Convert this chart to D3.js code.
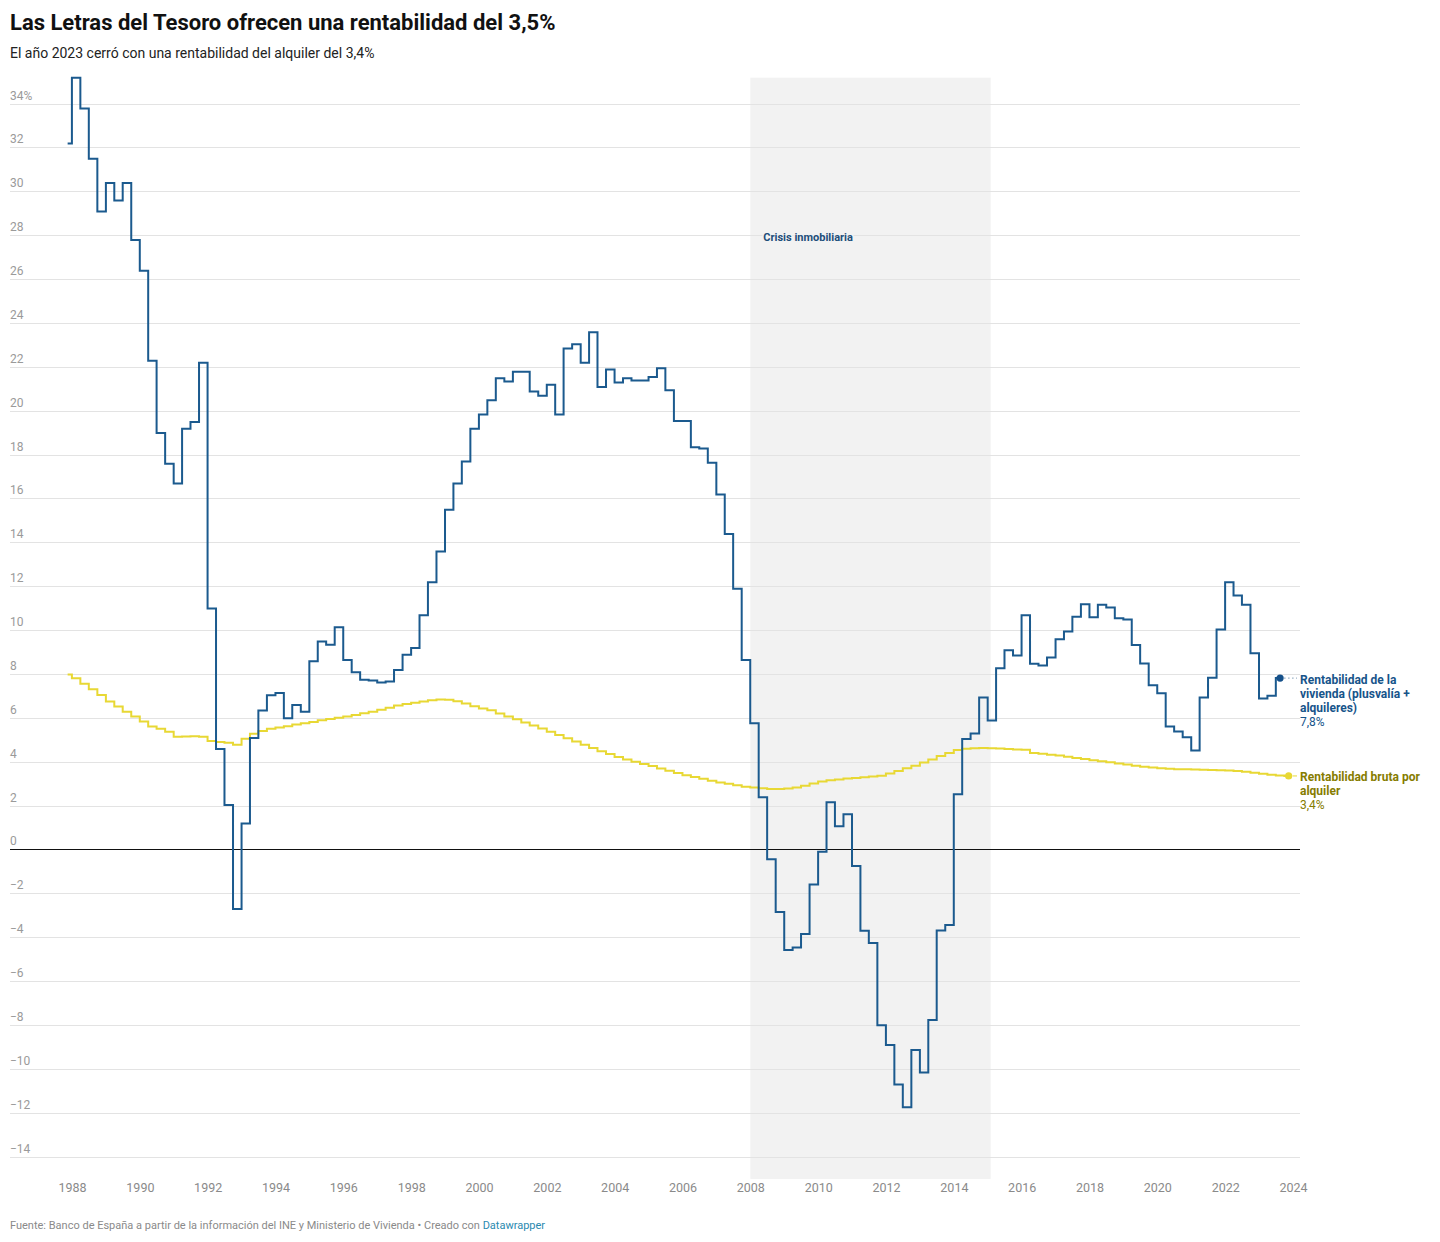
<!DOCTYPE html>
<html lang="es">
<head>
<meta charset="utf-8">
<title>Las Letras del Tesoro ofrecen una rentabilidad del 3,5%</title>
<script src="https://cdn.jsdelivr.net/npm/d3@7"></script>
<style>
  body { margin: 0; background: #fff; font-family: Roboto, "Open Sans", sans-serif; }
  svg text { font-family: Roboto, sans-serif; }
</style>
</head>
<body>
<svg id="chart" width="1440" height="1242"></svg>
<script>
// quarterly series, first value is 1987 T4
const firstQuarter = [1987, 4];

// Rentabilidad de la vivienda (plusvalía + alquileres), 1987T4 - 2023T3
const viviendaValues = [
  32.2, 35.2, 33.8, 31.5, 29.1, 30.4, 29.6, 30.4, 27.8, 26.4,
  22.3, 19.0, 17.6, 16.7, 19.2, 19.5, 22.2, 11.0, 4.6, 2.05,
  -2.7, 1.2, 5.1, 6.35, 7.05, 7.15, 6.0, 6.6, 6.3, 8.6,
  9.5, 9.35, 10.15, 8.66, 8.1, 7.75, 7.72, 7.63, 7.67, 8.2,
  8.9, 9.2, 10.7, 12.2, 13.6, 15.5, 16.7, 17.7, 19.2, 19.85,
  20.5, 21.5, 21.35, 21.8, 21.8, 20.9, 20.7, 21.2, 19.85, 22.85,
  23.05, 22.2, 23.6, 21.1, 21.9, 21.3, 21.5, 21.4, 21.4, 21.55,
  21.95, 20.95, 19.55, 19.55, 18.35, 18.3, 17.65, 16.2, 14.4, 11.9,
  8.66, 5.77, 2.4, -0.43, -2.83, -4.56, -4.45, -3.83, -1.58, -0.08,
  2.17, 1.08, 1.62, -0.74, -3.69, -4.25, -7.99, -8.89, -10.7, -11.73,
  -9.12, -10.15, -7.75, -3.68, -3.42, 2.54, 5.05, 5.3, 6.95, 5.9,
  8.28, 9.1, 8.86, 10.7, 8.48, 8.4, 8.77, 9.6, 9.95, 10.63,
  11.2, 10.6, 11.17, 11.05, 10.56, 10.5, 9.34, 8.5, 7.5, 7.14,
  5.62, 5.4, 5.13, 4.53, 6.95, 7.85, 10.05, 12.2, 11.6, 11.17,
  8.96, 6.9, 7.03, 7.83
];

// Rentabilidad bruta por alquiler, 1987T4 - 2023T4
const alquilerValues = [
  8.0, 7.82, 7.57, 7.32, 7.06, 6.76, 6.53, 6.30, 6.08, 5.85,
  5.62, 5.52, 5.39, 5.16, 5.17, 5.18, 5.16, 4.96, 4.92, 4.88,
  4.79, 5.06, 5.29, 5.42, 5.52, 5.58, 5.64, 5.71, 5.77, 5.83,
  5.91, 5.97, 6.02, 6.08, 6.15, 6.23, 6.30, 6.39, 6.48, 6.58,
  6.65, 6.71, 6.76, 6.82, 6.85, 6.84, 6.77, 6.67, 6.55, 6.44,
  6.36, 6.22, 6.08, 5.95, 5.81, 5.67, 5.53, 5.38, 5.24, 5.09,
  4.94, 4.79, 4.64, 4.50, 4.37, 4.23, 4.12, 4.02, 3.92, 3.82,
  3.71, 3.61, 3.50, 3.40, 3.32, 3.24, 3.15, 3.07, 3.01, 2.95,
  2.88, 2.84, 2.81, 2.78, 2.77, 2.80, 2.84, 2.92, 3.02, 3.12,
  3.17, 3.21, 3.25, 3.28, 3.31, 3.34, 3.38, 3.48, 3.60, 3.72,
  3.84, 3.98, 4.12, 4.28, 4.42, 4.55, 4.61, 4.63, 4.64, 4.63,
  4.62, 4.60, 4.58, 4.56, 4.42, 4.38, 4.34, 4.30, 4.25, 4.19,
  4.14, 4.09, 4.04, 3.99, 3.94, 3.89, 3.84, 3.79, 3.75, 3.72,
  3.70, 3.68, 3.67, 3.66, 3.65, 3.64, 3.63, 3.62, 3.59, 3.56,
  3.52, 3.47, 3.42, 3.39, 3.37
];

const yTicks = [34, 32, 30, 28, 26, 24, 22, 20, 18, 16, 14, 12, 10, 8, 6, 4, 2, 0, -2, -4, -6, -8, -10, -12, -14];
const xTickYears = [1988, 1990, 1992, 1994, 1996, 1998, 2000, 2002, 2004, 2006, 2008, 2010, 2012, 2014, 2016, 2018, 2020, 2022, 2024];
const crisis = { label: "Crisis inmobiliaria", from: new Date(2008, 0, 1), to: new Date(2015, 1, 1) };

const series = [
  { name: ["Rentabilidad de la", "vivienda (plusvalía +", "alquileres)"], last: "7,8%", values: viviendaValues,
    color: "#1b5a8e", text: "#17548a" },
  { name: ["Rentabilidad bruta por", "alquiler"], last: "3,4%", values: alquilerValues,
    color: "#e8d834", text: "#867c00" }
];

// mid-quarter date for the i-th value
const quarterDate = (i) => {
  const q = firstQuarter[1] - 1 + i;
  const year = firstQuarter[0] + Math.floor(q / 4);
  return new Date(year, (q % 4) * 3 + 1, 15);
};

const fmt = (n) => n.toString().replace('-', '\u2212');

const svg = d3.select("#chart");

const x = d3.scaleTime()
  .domain([new Date(1988, 0, 1), new Date(2024, 0, 1)])
  .range([72, 1293]);

const y = d3.scaleLinear()
  .domain([-14, 34])
  .range([1157, 104]);

const gridLeft = 10, gridRight = 1300;

// titles
svg.append("text")
  .attr("x", 10).attr("y", 30)
  .style("font-size", "22px").style("font-weight", 700).style("fill", "#111")
  .text("Las Letras del Tesoro ofrecen una rentabilidad del 3,5%");

svg.append("text")
  .attr("x", 10).attr("y", 58)
  .style("font-size", "14px").style("fill", "#222")
  .text("El año 2023 cerró con una rentabilidad del alquiler del 3,4%");

// shaded crisis band
svg.append("rect")
  .attr("x", x(crisis.from))
  .attr("y", y(35.2))
  .attr("width", x(crisis.to) - x(crisis.from))
  .attr("height", y(-15) - y(35.2))
  .attr("fill", "#f2f2f2");

// y grid + labels
const yAxis = svg.append("g");
yAxis.selectAll("line")
  .data(yTicks)
  .join("line")
  .attr("x1", gridLeft).attr("x2", gridRight)
  .attr("y1", d => y(d)).attr("y2", d => y(d))
  .attr("stroke", d => d === 0 ? "#111" : "#e3e3e3")
  .attr("stroke-width", 1)
  .attr("shape-rendering", "crispEdges");

yAxis.selectAll("text")
  .data(yTicks)
  .join("text")
  .attr("x", gridLeft)
  .attr("y", d => y(d) - 4.5)
  .style("font-size", "12px").style("fill", "#9a9a9a")
  .text((d, i) => i === 0 ? fmt(d) + "%" : fmt(d));

// band label, with a halo so the grid line doesn't cut it
svg.append("text")
  .attr("x", x(crisis.from) + 13).attr("y", 241)
  .style("font-size", "11px").style("font-weight", 700).style("fill", "#1d4e7a")
  .style("stroke", "#f2f2f2").style("stroke-width", 3).style("paint-order", "stroke")
  .text(crisis.label);

// x axis labels
const xAxis = d3.axisBottom(x)
  .tickValues(xTickYears.map(yr => new Date(yr, 0, 1)))
  .tickFormat(d3.timeFormat("%Y"))
  .tickSize(0)
  .tickPadding(0);

svg.append("g")
  .attr("transform", "translate(0,1183)")
  .call(xAxis)
  .call(g => g.select(".domain").remove())
  .call(g => g.selectAll("text")
    .style("font-size", "12.5px")
    .style("font-family", "Roboto, sans-serif")
    .attr("fill", "#8a8a8a"));

// lines (draw yellow first so the blue sits on top)
const line = d3.line()
  .x((d, i) => x(quarterDate(i)))
  .y(d => y(d))
  .curve(d3.curveStep);

series.slice().reverse().forEach(s => {
  svg.append("path")
    .datum(s.values)
    .attr("fill", "none")
    .attr("stroke", s.color)
    .attr("stroke-width", 2)
    .attr("stroke-linejoin", "miter")
    .attr("d", line);
});

// end dots and labels
const labelX = 1300;
const labelTops = [684, 781];

series.forEach((s, si) => {
  const n = s.values.length - 1;
  const ex = x(quarterDate(n)), ey = y(s.values[n]);

  svg.append("line")
    .attr("x1", ex + 4).attr("x2", labelX - 3)
    .attr("y1", ey).attr("y2", ey)
    .attr("stroke", si === 0 ? "#7f9bb5" : s.color)
    .attr("stroke-width", 1)
    .attr("stroke-dasharray", si === 0 ? "1.5,2.5" : null);

  svg.append("circle")
    .attr("cx", ex).attr("cy", ey).attr("r", 3.6)
    .attr("fill", si === 0 ? "#15508a" : s.color);

  const t = svg.append("text")
    .attr("x", labelX).attr("y", labelTops[si])
    .style("font-size", "12px").style("fill", s.text);

  s.name.forEach((ln, li) => {
    t.append("tspan")
      .attr("x", labelX).attr("dy", li === 0 ? 0 : 14)
      .style("font-weight", 700)
      .text(ln);
  });
  t.append("tspan")
    .attr("x", labelX).attr("dy", 14)
    .style("font-weight", 400)
    .text(s.last);
});

// footer
const foot = svg.append("text")
  .attr("x", 10).attr("y", 1229)
  .style("font-size", "11px").style("fill", "#8a8a8a");
foot.append("tspan").text("Fuente: Banco de España a partir de la información del INE y Ministerio de Vivienda • Creado con ");
foot.append("tspan").style("fill", "#2a8ab0").text("Datawrapper");
</script>
</body>
</html>
